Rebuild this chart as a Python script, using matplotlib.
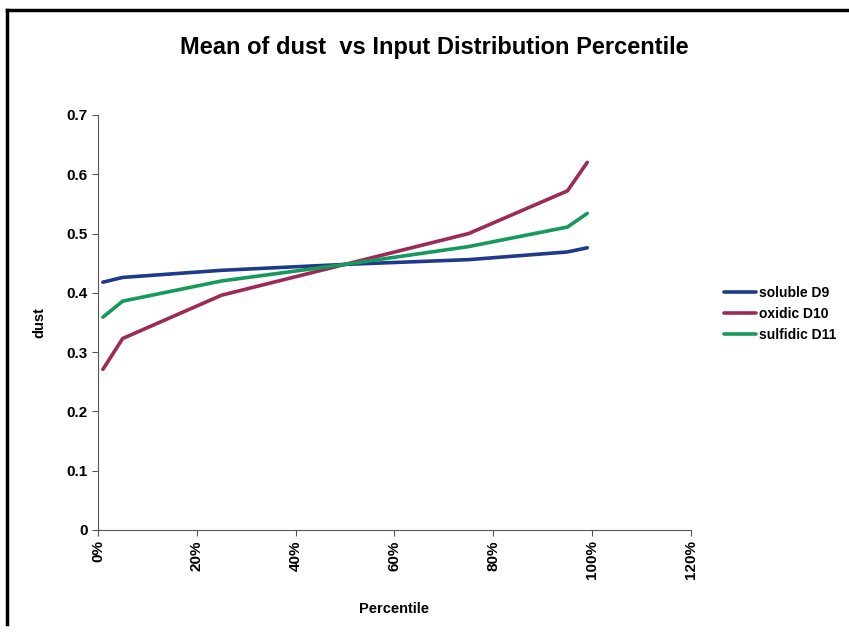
import matplotlib
matplotlib.use('Agg')
import matplotlib.pyplot as plt
from matplotlib.ticker import PercentFormatter
from matplotlib.lines import Line2D

plt.rcParams['font.family'] = ['Liberation Sans', 'DejaVu Sans']

percentiles = [0.01, 0.05, 0.25, 0.50, 0.75, 0.95, 0.99]
soluble_d9 = [0.418, 0.426, 0.438, 0.448, 0.456, 0.469, 0.476]
oxidic_d10 = [0.271, 0.323, 0.396, 0.448, 0.500, 0.572, 0.620]
sulfidic_d11 = [0.359, 0.386, 0.420, 0.448, 0.478, 0.511, 0.534]

x_ticks = [0, 0.2, 0.4, 0.6, 0.8, 1.0, 1.2]
y_ticks = [0, 0.1, 0.2, 0.3, 0.4, 0.5, 0.6, 0.7]
y_labels = ['0', '0.1', '0.2', '0.3', '0.4', '0.5', '0.6', '0.7']

series = [
  ('soluble D9', soluble_d9, '#1f3a8c'),
  ('oxidic D10', oxidic_d10, '#9c2a57'),
  ('sulfidic D11', sulfidic_d11, '#159a5c'),
]

fig = plt.figure(figsize=(8.49, 6.36), dpi=100)
ax = fig.add_axes([0.1154, 0.1667, 0.6985, 0.6525])

for name, vals, col in series:
  ax.plot(percentiles, vals, color=col, lw=2.6, label=name, solid_capstyle='round')

ax.set_xlim(0, 1.2)
ax.set_ylim(0, 0.7)
ax.set_xticks(x_ticks)
ax.xaxis.set_major_formatter(PercentFormatter(1, decimals=0))
ax.set_yticks(y_ticks)
ax.set_yticklabels(y_labels)
for s in ['top', 'right']:
  ax.spines[s].set_visible(False)
for s in ['left', 'bottom']:
  ax.spines[s].set_color('#555555')
ax.tick_params(direction='out', length=4, color='#555555', labelsize=11)
for lab in ax.get_xticklabels() + ax.get_yticklabels():
  lab.set_fontweight('bold')
plt.setp(ax.get_xticklabels(), rotation=90)

ax.set_xlabel('Percentile', fontsize=10.5, fontweight='bold', labelpad=16)
ax.set_ylabel('dust', fontsize=10.5, fontweight='bold', labelpad=14)

fig.text(0.512, 0.925, 'Mean of dust  vs Input Distribution Percentile',
         ha='center', va='center', fontsize=17, fontweight='bold')

ax.legend(loc='center left', bbox_to_anchor=(1.035, 0.52), frameon=False,
          prop={'size': 10, 'weight': 'bold'},
          handlelength=2.3, handletextpad=0.2, labelspacing=0.5)

# chart border
fig.add_artist(Line2D([7/849, 7/849], [1-10/636, 1-624/636], color='black', lw=2.5))
fig.add_artist(Line2D([7/849, 1.0], [1-10/636, 1-10/636], color='black', lw=2.5))

fig.savefig('out.png', dpi=100)
plt.close()
